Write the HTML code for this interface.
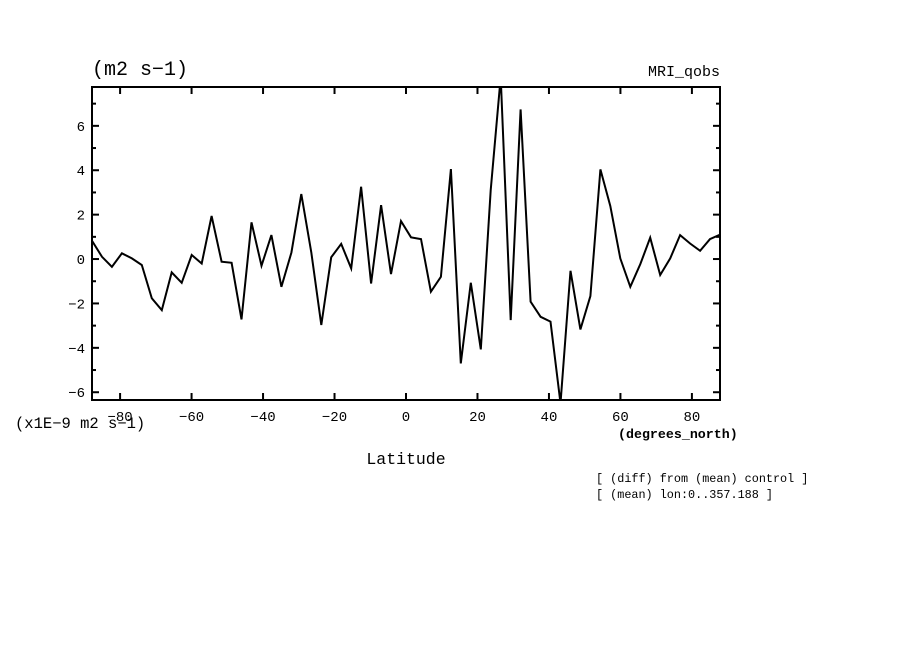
<!DOCTYPE html>
<html><head><meta charset="utf-8"><style>
body{margin:0;background:#fff;}
svg text{font-family:"Liberation Mono","DejaVu Sans Mono",monospace;fill:#000;}
</style></head><body>
<svg id="chart" width="904" height="654" viewBox="0 0 904 654" xmlns="http://www.w3.org/2000/svg">
<rect width="904" height="654" fill="#fff"/>
<g id="ticks"></g>
<path id="line" fill="none" stroke="#000" stroke-width="2" stroke-linejoin="miter"/>
<rect x="92" y="87" width="628" height="313" fill="none" stroke="#000" stroke-width="2"/>
<text x="92" y="75" font-size="20">(m2 s−1)</text>
<text x="720" y="76" font-size="15" text-anchor="end">MRI_qobs</text>
<text x="15" y="428" font-size="15.5">(x1E−9 m2 s−1)</text>
<text x="618" y="438" font-size="13.3" font-weight="bold">(degrees_north)</text>
<text x="406" y="464" font-size="16.5" text-anchor="middle">Latitude</text>
<text x="596" y="482" font-size="11.8">[ (diff) from (mean) control ]</text>
<text x="596" y="498" font-size="11.8">[ (mean) lon:0..357.188 ]</text>
</svg>
<script>
const values = [0.82,0.10,-0.35,0.26,0.03,-0.27,-1.77,-2.3,-0.6,-1.07,0.18,-0.2,1.94,-0.12,-0.17,-2.72,1.65,-0.3,1.08,-1.25,0.29,2.93,0.3,-2.97,0.08,0.68,-0.42,3.26,-1.1,2.43,-0.68,1.71,0.98,0.9,-1.47,-0.8,4.05,-4.7,-1.07,-4.07,3.1,8.2,-2.75,6.74,-1.92,-2.6,-2.82,-6.5,-0.53,-3.17,-1.67,4.04,2.39,0.03,-1.25,-0.23,0.96,-0.72,0.03,1.08,0.7,0.37,0.9,1.1];
const xTicks = [-80,-60,-40,-20,0,20,40,60,80];
const yTicks = [-6,-4,-2,0,2,4,6];
const latMin = -87.86, latMax = 87.86;
const X0=92,X1=720,Y0=87,Y1=400;
const yMin=-6.35,yMax=7.75;
const sx = v => X0 + (v-latMin)/(latMax-latMin)*(X1-X0);
const sy = v => Y1 - (v-yMin)/(yMax-yMin)*(Y1-Y0);
const NS="http://www.w3.org/2000/svg";
const svg=document.getElementById('chart');
const tg=document.getElementById('ticks');
const step=(latMax-latMin)/(values.length-1);
let d="";
values.forEach((v,i)=>{d+=(i?"L":"M")+sx(latMin+i*step).toFixed(1)+","+sy(v).toFixed(1);});
const clip=document.createElementNS(NS,'clipPath');clip.id='pc';
const cr=document.createElementNS(NS,'rect');
cr.setAttribute('x',X0);cr.setAttribute('y',Y0);cr.setAttribute('width',X1-X0);cr.setAttribute('height',Y1-Y0);
clip.appendChild(cr);svg.insertBefore(clip,svg.firstChild);
const ln=document.getElementById('line');ln.setAttribute('d',d);ln.setAttribute('clip-path','url(#pc)');
function line(x1,y1,x2,y2){const l=document.createElementNS(NS,'line');
l.setAttribute('x1',x1);l.setAttribute('y1',y1);l.setAttribute('x2',x2);l.setAttribute('y2',y2);
l.setAttribute('stroke','#000');l.setAttribute('stroke-width','2');


tg.appendChild(l);}
function txt(x,y,s,anchor,name){const t=document.createElementNS(NS,'text');
t.setAttribute('x',x);t.setAttribute('y',y);t.setAttribute('font-size','14');t.setAttribute('text-anchor',anchor);
t.textContent=s;


svg.appendChild(t);}
xTicks.forEach(v=>{const x=sx(v);line(x,Y1,x,Y1-7);line(x,Y0,x,Y0+7);
txt(x,Y1+21,String(v).replace('-','−'),'middle','x-tick-label');});
for(let v=-6;v<=7;v++){const y=sy(v);const L=(v%2===0)?7:4;line(X0,y,X0+L,y);line(X1,y,X1-L,y);}
yTicks.forEach(v=>{txt(X0-7,sy(v)+5,String(v).replace('-','−'),'end','y-tick-label');});
</script>
</body></html>
